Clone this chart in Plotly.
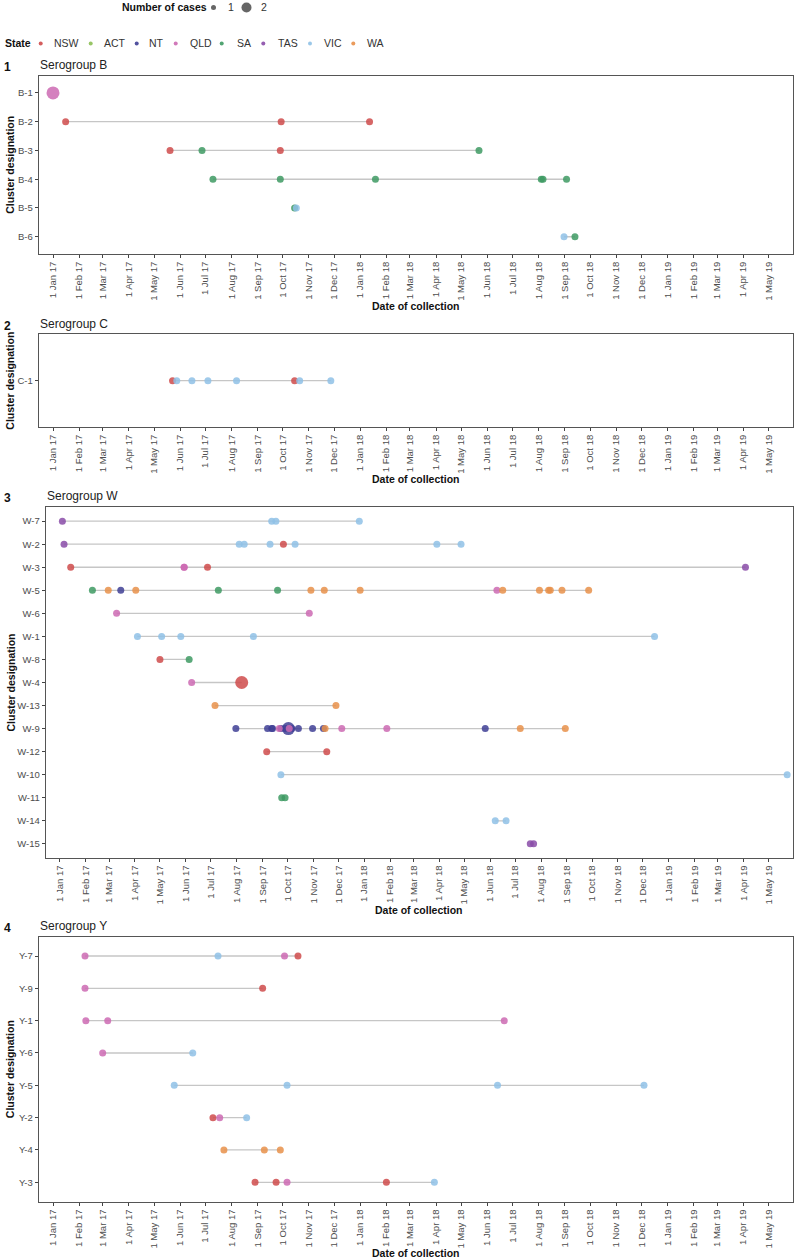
import plotly.graph_objects as go

# ---------------- data ----------------
STATES = ["NSW", "ACT", "NT", "QLD", "SA", "TAS", "VIC", "WA"]
STATE_COLORS = {
    "NSW": "#CF4B4B", "ACT": "#8DBF55", "NT": "#3F3F95", "QLD": "#CC6AB3",
    "SA": "#3E9A63", "TAS": "#8A4CA8", "VIC": "#8FC1E6", "WA": "#E8904A",
}
CASE_SIZES = {1: 7, 2: 13}

# Serogroup B
b_clusters = ["B-1", "B-2", "B-3", "B-4", "B-5", "B-6"]
b_cluster = ["B-1",
             "B-2", "B-2", "B-2",
             "B-3", "B-3", "B-3", "B-3",
             "B-4", "B-4", "B-4", "B-4", "B-4", "B-4",
             "B-5", "B-5",
             "B-6", "B-6"]
b_date = ["2017-01-01",
          "2017-01-16", "2017-09-29", "2018-01-12",
          "2017-05-20", "2017-06-27", "2017-09-28", "2018-05-22",
          "2017-07-10", "2017-09-28", "2018-01-19", "2018-08-04", "2018-08-06", "2018-09-03",
          "2017-10-15", "2017-10-17",
          "2018-08-31", "2018-09-13"]
b_state = ["QLD",
           "NSW", "NSW", "NSW",
           "NSW", "SA", "NSW", "SA",
           "SA", "SA", "SA", "SA", "SA", "SA",
           "SA", "VIC",
           "VIC", "SA"]
b_cases = [2] + [1] * 17

# Serogroup C
c_clusters = ["C-1"]
c_cluster = ["C-1"] * 8
c_date = ["2017-05-23", "2017-05-28", "2017-06-15", "2017-07-04",
          "2017-08-07", "2017-10-15", "2017-10-21", "2017-11-27"]
c_state = ["NSW", "VIC", "VIC", "VIC", "VIC", "NSW", "VIC", "VIC"]
c_cases = [1] * 8

# Serogroup W
w_clusters = ["W-7", "W-2", "W-3", "W-5", "W-6", "W-1", "W-8", "W-4",
              "W-13", "W-9", "W-12", "W-10", "W-11", "W-14", "W-15"]
w_cluster = (["W-7"] * 4 + ["W-2"] * 8 + ["W-3"] * 5 + ["W-5"] * 16 + ["W-6"] * 2
             + ["W-1"] * 5 + ["W-8"] * 2 + ["W-4"] * 2 + ["W-13"] * 2 + ["W-9"] * 19
             + ["W-12"] * 2 + ["W-10"] * 2 + ["W-11"] * 2 + ["W-14"] * 2 + ["W-15"] * 2)
w_date = [
    # W-7
    "2017-01-04", "2017-09-12", "2017-09-17", "2017-12-26",
    # W-2
    "2017-01-06", "2017-08-04", "2017-08-10", "2017-09-10", "2017-09-26", "2017-10-10",
    "2018-03-29", "2018-04-27",
    # W-3
    "2017-01-14", "2017-05-30", "2017-05-30", "2017-06-27", "2019-04-03",
    # W-5
    "2017-02-09", "2017-02-28", "2017-03-15", "2017-04-02", "2017-07-10", "2017-09-19",
    "2017-10-29", "2017-11-14", "2017-12-27", "2018-06-09", "2018-06-16", "2018-07-30",
    "2018-08-10", "2018-08-12", "2018-08-26", "2018-09-27",
    # W-6
    "2017-03-10", "2017-10-27",
    # W-1
    "2017-04-04", "2017-05-03", "2017-05-26", "2017-08-21", "2018-12-15",
    # W-8
    "2017-05-01", "2017-06-05",
    # W-4
    "2017-06-08", "2017-08-07",
    # W-13
    "2017-07-06", "2017-11-28",
    # W-9
    "2017-07-31", "2017-09-07", "2017-09-12", "2017-09-13", "2017-09-21", "2017-09-23",
    "2017-09-28", "2017-10-02", "2017-10-03", "2017-10-06", "2017-10-14", "2017-10-31",
    "2017-11-13", "2017-11-15", "2017-12-05", "2018-01-28", "2018-05-26", "2018-07-07",
    "2018-08-30",
    # W-12
    "2017-09-06", "2017-11-17",
    # W-10
    "2017-09-23", "2019-05-23",
    # W-11
    "2017-09-24", "2017-09-28",
    # W-14
    "2018-06-07", "2018-06-20",
    # W-15
    "2018-07-19", "2018-07-23",
]
w_state = [
    "TAS", "VIC", "VIC", "VIC",
    "TAS", "VIC", "VIC", "VIC", "NSW", "VIC", "VIC", "VIC",
    "NSW", "QLD", "QLD", "NSW", "TAS",
    "SA", "WA", "NT", "WA", "SA", "SA", "WA", "WA", "WA", "QLD", "WA", "WA", "WA", "WA", "WA", "WA",
    "QLD", "QLD",
    "VIC", "VIC", "VIC", "VIC", "VIC",
    "NSW", "SA",
    "QLD", "NSW",
    "WA", "WA",
    "NT", "NT", "NT", "NT", "QLD", "NT", "NT", "NT", "QLD", "NT", "NT", "NT",
    "NT", "WA", "QLD", "QLD", "NT", "WA", "WA",
    "NSW", "NSW",
    "VIC", "VIC",
    "SA", "SA",
    "VIC", "VIC",
    "TAS", "TAS",
]
w_cases = [1] * len(w_date)
w_cases[42 + 1] = 2          # W-4 NSW, 7 Aug 17
w_cases[46 + 7] = 2          # W-9 NT, 2 Oct 17

# Serogroup Y
y_clusters = ["Y-7", "Y-9", "Y-1", "Y-6", "Y-5", "Y-2", "Y-4", "Y-3"]
y_cluster = (["Y-7"] * 4 + ["Y-9"] * 2 + ["Y-1"] * 3 + ["Y-6"] * 2 + ["Y-5"] * 4
             + ["Y-2"] * 3 + ["Y-4"] * 3 + ["Y-3"] * 5)
y_date = ["2017-02-08", "2017-07-16", "2017-10-03", "2017-10-19",
          "2017-02-08", "2017-09-07",
          "2017-02-09", "2017-03-07", "2018-06-21",
          "2017-03-01", "2017-06-16",
          "2017-05-25", "2017-10-06", "2018-06-13", "2018-12-04",
          "2017-07-10", "2017-07-18", "2017-08-19",
          "2017-07-23", "2017-09-09", "2017-09-28",
          "2017-08-29", "2017-09-23", "2017-10-06", "2018-02-01", "2018-03-30"]
y_state = ["QLD", "VIC", "QLD", "NSW",
           "QLD", "NSW",
           "QLD", "QLD", "QLD",
           "QLD", "VIC",
           "VIC", "VIC", "VIC", "VIC",
           "NSW", "QLD", "VIC",
           "WA", "WA", "WA",
           "NSW", "NSW", "QLD", "NSW", "VIC"]
y_cases = [1] * len(y_date)

X_RANGE = ["2016-12-15", "2019-05-30"]

# ---------------- figure ----------------
W, H = 796, 1259
FONT = "Liberation Sans, Arial, sans-serif"
TICK_COL = "#4d4d4d"

panels = [
    dict(num="1", title="Serogroup B", clusters=b_clusters, cluster=b_cluster, date=b_date,
         state=b_state, cases=b_cases, top=75.7, bottom=254, left=38.7, head=65, xt=306),
    dict(num="2", title="Serogroup C", clusters=c_clusters, cluster=c_cluster, date=c_date,
         state=c_state, cases=c_cases, top=334.3, bottom=427, left=38.7, head=324, xt=479),
    dict(num="3", title="Serogroup W", clusters=w_clusters, cluster=w_cluster, date=w_date,
         state=w_state, cases=w_cases, top=507.3, bottom=857.7, left=45.7, head=496, xt=910),
    dict(num="4", title="Serogroup Y", clusters=y_clusters, cluster=y_cluster, date=y_date,
         state=y_state, cases=y_cases, top=936.6, bottom=1201.7, left=38.7, head=926, xt=1253),
]
RIGHT = 793

fig = go.Figure()
layout = {}
annotations = []
shapes = []


def px(x):
    return x / W


def py(y):
    return 1 - y / H


def note(text, x, y, size=10.5, color="#222", xanchor="left", **kw):
    annotations.append(dict(text=text, x=px(x), y=py(y), xref="paper", yref="paper",
                            xanchor=xanchor, yanchor="middle", showarrow=False,
                            font=dict(size=size, color=color, family=FONT), **kw))


def key_dot(x, y, diameter, color):
    r = diameter / 2
    shapes.append(dict(type="circle", xref="paper", yref="paper",
                       xsizemode="pixel", ysizemode="pixel",
                       xanchor=px(x), yanchor=py(y), x0=-r, x1=r, y0=-r, y1=r,
                       fillcolor=color, line=dict(width=0), opacity=0.9))


for i, p in enumerate(panels, start=1):
    sfx = "" if i == 1 else str(i)
    xa, ya = "x" + sfx, "y" + sfx
    # range lines
    lx, ly = [], []
    for c in p["clusters"]:
        ds = [d for d, cc in zip(p["date"], p["cluster"]) if cc == c]
        if len(ds) > 1:
            lx += [min(ds), max(ds), None]
            ly += [c, c, None]
    fig.add_trace(go.Scatter(x=lx, y=ly, mode="lines", xaxis=xa, yaxis=ya,
                             line=dict(color="#c6c6c6", width=1.3),
                             showlegend=False, hoverinfo="skip"))
    for s in STATES:
        idx = [k for k, st in enumerate(p["state"]) if st == s]
        if not idx:
            continue
        fig.add_trace(go.Scatter(
            x=[p["date"][k] for k in idx], y=[p["cluster"][k] for k in idx],
            mode="markers", xaxis=xa, yaxis=ya, name=s, showlegend=False,
            marker=dict(color=STATE_COLORS[s], opacity=0.85,
                        size=[CASE_SIZES[p["cases"][k]] for k in idx],
                        line=dict(width=0))))
    n = len(p["clusters"])
    layout["xaxis" + sfx] = dict(
        domain=[px(p["left"]), px(RIGHT)], anchor=ya, type="date", range=X_RANGE,
        tickmode="linear", tick0="2017-01-01", dtick="M1", tickformat="%-d %b %y",
        tickangle=-90, ticks="outside", ticklen=3, tickcolor="#444", tickwidth=0.8,
        tickfont=dict(size=9.5, color=TICK_COL, family=FONT),
        showline=True, mirror=True, linecolor="#555", linewidth=1,
        showgrid=False, zeroline=False, automargin=False, fixedrange=True)
    layout["yaxis" + sfx] = dict(
        domain=[py(p["bottom"]), py(p["top"])], anchor=xa, type="category",
        categoryorder="array", categoryarray=list(reversed(p["clusters"])),
        range=[-0.6, n - 0.4], ticks="outside", ticklen=3, tickcolor="#444", tickwidth=0.8,
        tickfont=dict(size=9.5, color=TICK_COL, family=FONT),
        showline=True, mirror=True, linecolor="#555", linewidth=1,
        showgrid=False, zeroline=False, automargin=False, fixedrange=True)
    # panel number, title, axis titles
    note("<b>" + p["num"] + "</b>", 2, p["head"] + 2, size=12, color="#111")
    note(p["title"], p["left"] - 1, p["head"], size=12, color="#222")
    note("<b>Date of collection</b>", (p["left"] + RIGHT) / 2, p["xt"], size=10.5,
         color="#111", xanchor="center")
    note("<b>Cluster designation</b>", 10, (p["top"] + p["bottom"]) / 2, size=10.5,
         color="#111", xanchor="center", textangle=-90)

# ---------------- legends ----------------
note("<b>Number of cases</b>", 120, 7.5, size=10.5, color="#111")
case_leg_x = {1: (213.5, 226), 2: (246.5, 259)}
case_key_diam = {1: 5, 2: 10}
for c in [1, 2]:
    dx, tx = case_leg_x[c]
    key_dot(dx, 7.5, case_key_diam[c], "#555555")
    note(str(c), tx, 7.5, size=10.5, color="#333")

note("<b>State</b>", 2.5, 43.5, size=10.5, color="#111")
state_leg_x = {"NSW": (40.7, 51.5), "ACT": (90.7, 101.5), "NT": (136.7, 147),
               "QLD": (175.7, 188), "SA": (221.7, 235), "TAS": (263.3, 275.5),
               "VIC": (310, 321.5), "WA": (353.3, 364.5)}
for s in STATES:
    dx, tx = state_leg_x[s]
    key_dot(dx, 43.5, 4, STATE_COLORS[s])
    note(s, tx, 43.5, size=10.5, color="#333")

fig.update_layout(
    width=W, height=H, margin=dict(l=0, r=0, t=0, b=0, autoexpand=False),
    paper_bgcolor="white", plot_bgcolor="white",
    font=dict(family=FONT, size=11, color="#222"),
    showlegend=False,
    annotations=annotations,
    shapes=shapes,
    **layout,
)

# remove the default 8px page margin so the figure sits at the window's corner
fig.write_html("out.html", config={"displayModeBar": False},
               post_script="document.body.style.margin='0';document.body.style.overflow='hidden';")
